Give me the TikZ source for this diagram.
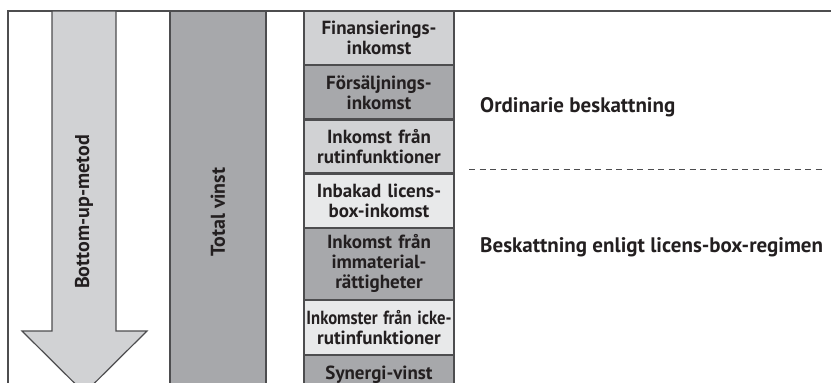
\documentclass[tikz,border=0pt]{standalone}
\usepackage{fontspec}
\setmainfont{PT Sans}
\usepackage{graphicx}
\usepackage{tikz}

\definecolor{inkgray}{HTML}{231F20}
\definecolor{edgegray}{HTML}{4D4D4F}
\definecolor{lightfill}{HTML}{D1D2D4}
\definecolor{darkfill}{HTML}{A7A8AB}
\definecolor{palefill}{HTML}{E8E9EA}

% squeeze a line that is wider than the box
\newcommand\fitrow[1]{\sbox0{#1}\ifdim\wd0>145pt \resizebox{145pt}{\ht0}{#1}\else #1\fi}

\tikzset{
  part/.style={draw=edgegray, line width=1.2pt, text=inkgray, anchor=north,
    minimum width=150pt, text width=148pt, align=center, inner sep=0pt,
    font=\fontsize{19}{20}\selectfont\bfseries},
  label/.style={text=inkgray, anchor=base west, inner sep=0pt,
    font=\fontsize{21}{24}\selectfont\bfseries},
  sidelabel/.style={rotate=90, text=inkgray, inner sep=0pt,
    font=\fontsize{20}{24}\selectfont\bfseries}
}

\begin{document}
\begin{tikzpicture}[x=1pt, y=-1pt]

  \useasboundingbox (0,0) rectangle (831,383);
  \clip (0,0) rectangle (831,383);

  % frame
  \draw[edgegray, line width=1.2pt] (8,390) -- (8,11) -- (831,11);

  % arrow
  \draw[edgegray, line width=1.2pt, fill=lightfill]
    (52,11) -- (116,11) -- (116,331) -- (147,331) -- (84.5,393)
    -- (22,331) -- (52,331) -- cycle;
  \node[sidelabel] (bottomup) at (84,212) {Bottom-up-metod};

  % total
  \draw[edgegray, line width=1.2pt, fill=darkfill] (170,395) -- (170,11) -- (266,11) -- (266,395);
  \node[sidelabel] (total) at (218,212) {Total vinst};

  % stacked incomes
  \node[part, fill=lightfill, minimum height=53pt] (fin) at (379,11)
    {\fitrow{Finansierings-}\\inkomst};
  \node[part, fill=darkfill, minimum height=53pt] (sal) at (fin.south)
    {\fitrow{Försäljnings-}\\inkomst};
  \node[part, fill=lightfill, minimum height=53pt] (rut) at (sal.south)
    {Inkomst från\\\fitrow{rutinfunktioner}};
  \node[part, fill=palefill, minimum height=53pt] (emb) at (rut.south)
    {\fitrow{Inbakad licens-}\\box-inkomst};
  \node[part, fill=darkfill, minimum height=71pt] (ip) at (emb.south)
    {Inkomst från\\immaterial-\\rättigheter};
  \node[part, fill=palefill, minimum height=54pt] (nonrut) at (ip.south)
    {\fitrow{Inkomster från icke-}\\\fitrow{rutinfunktioner}};
  \node[part, fill=darkfill, minimum height=37pt] (syn) at (nonrut.south)
    {Synergi-vinst};

  % regimes
  \node[label] (ordinary) at (480,112) {Ordinarie beskattning};
  \coordinate (split) at (469,169);
  \coordinate (splitend) at (823,169);
  \draw[edgegray, line width=0.9pt, dash pattern=on 6pt off 4.5pt] (split) -- (splitend);
  \node[label] (licensbox) at (480,252) {Beskattning enligt licens-box-regimen};

\end{tikzpicture}
\end{document}
